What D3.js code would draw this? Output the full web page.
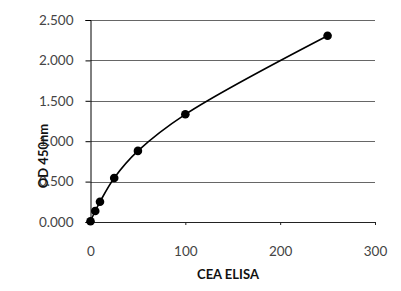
<!DOCTYPE html>
<html>
<head>
<meta charset="utf-8">
<script src="https://cdn.jsdelivr.net/npm/d3@7"></script>
<style>
  body { margin: 0; background: #fff; }
  text { font-family: Lato, "Open Sans", sans-serif; }
</style>
</head>
<body>
<div id="chart"></div>
<script>
// CEA ELISA standard curve
const concentrations = [0, 5, 10, 25, 50, 100, 250]
const odValues = [0.01, 0.136, 0.25, 0.545, 0.88, 1.333, 2.306]
const xTicks = [0, 100, 200, 300]
const yTicks = [0, 0.5, 1, 1.5, 2, 2.5]

const width = 401, height = 291
const svg = d3.select('#chart').append('svg').attr('width', width).attr('height', height)

const x = d3.scaleLinear().domain([0, 300]).range([90.5, 375])
const y = d3.scaleLinear().domain([0, 2.5]).range([222, 20])

// gridlines
svg.append('g').
    selectAll('line').
    data(yTicks.slice(1)).
    enter().
    append('line').
    attr('x1', x(0)).
    attr('x2', x(300)).
    attr('y1', d => Math.round(y(d)) + 0.5).
    attr('y2', d => Math.round(y(d)) + 0.5).
    attr('stroke', '#666').
    attr('stroke-width', 1)

// y axis
const yAxis = svg.append('g').
    attr('transform', `translate(${x(0)},0)`).
    call(d3.axisLeft(y).tickValues(yTicks).tickFormat(d3.format('.3f')).tickSize(5).tickPadding(12))
yAxis.select('.domain').attr('stroke', '#000')
yAxis.selectAll('.tick line').attr('stroke', '#000')
yAxis.selectAll('text').attr('font-size', 13.5).attr('fill', '#444')

// x axis
const xAxis = svg.append('g').
    attr('transform', `translate(0,${y(0)})`).
    call(d3.axisBottom(x).tickValues(xTicks).tickSize(3).tickPadding(21))
xAxis.select('.domain').attr('stroke', '#222')
xAxis.selectAll('.tick line').attr('stroke', '#222')
xAxis.selectAll('text').attr('font-size', 13.5).attr('fill', '#444')

// curve
const points = concentrations.map((c, i) => ({ conc: c, od: odValues[i] }))
const lineGen = d3.line().x(p => x(p.conc)).y(p => y(p.od)).curve(d3.curveCatmullRom.alpha(0.5))
svg.append('path').attr('d', lineGen(points)).attr('fill', 'none').attr('stroke', '#000').attr('stroke-width', 1.6)

svg.selectAll('circle.pt').
    data(points).
    enter().
    append('circle').
    attr('class', 'pt').
    attr('r', 4.3).
    attr('cx', p => x(p.conc)).
    attr('cy', p => y(p.od)).
    attr('fill', '#000')

// axis titles
svg.append('text').
    attr('x', 228).
    attr('y', 279).
    attr('text-anchor', 'middle').
    attr('font-size', 13).
    attr('font-weight', 'bold').
    attr('fill', '#111').
    text('CEA ELISA')

svg.append('text').
    attr('transform', 'translate(48,156) rotate(-90)').
    attr('text-anchor', 'middle').
    attr('font-size', 13).
    attr('font-weight', 'bold').
    attr('fill', '#111').
    text('OD 450nm')
</script>
</body>
</html>
